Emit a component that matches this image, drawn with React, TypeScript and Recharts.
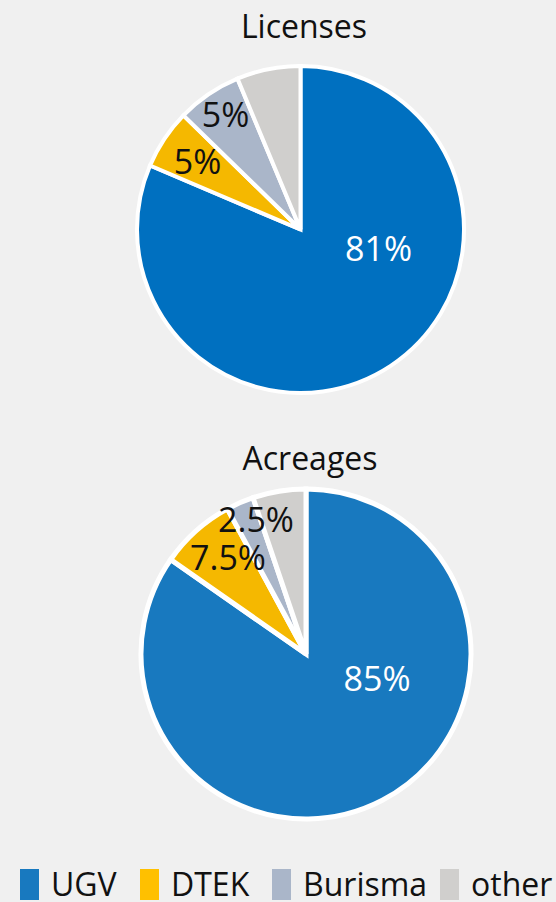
import { PieChart, Pie, Cell, Legend } from 'recharts';

const companies = ['UGV', 'DTEK', 'Burisma', 'other'];
const licenseShares = [81.4, 5.9, 6.4, 6.3];
const acreageShares = [84.7, 7.4, 2.7, 5.2];
const licenseLabels = ['81%', '5%', '5%', ''];
const acreageLabels = ['85%', '7.5%', '2.5%', ''];

const topColors = ['#0070c0', '#f5b800', '#aab6c9', '#d0cfcd'];
const bottomColors = ['#1879bf', '#f5b800', '#aab6c9', '#d0cfcd'];
const legendColors = ['#1879bf', '#ffc000', '#aab6c9', '#d0cfcd'];
const labelInk = ['#ffffff', '#111111', '#111111', '#111111'];

// label offsets from pie centre, per slice
const topOffsets = [[78, 18], [-103, -69], [-75, -116], [0, 0]];
const bottomOffsets = [[71, 24], [-78, -97], [-50, -135], [0, 0]];
// legend swatch x positions
const legendX = [20, 140, 272, 440];

const FONT = '"Open Sans", Roboto, sans-serif';

const licenseData = companies.map((name, i) => ({ name, value: licenseShares[i], label: licenseLabels[i] }));
const acreageData = companies.map((name, i) => ({ name, value: acreageShares[i], label: acreageLabels[i] }));

const makeLabel = (offsets: number[][]) => (props: any) => {
  const { cx, cy, index, payload } = props;
  const text = payload?.label ?? '';
  if (!text) return null;
  const [dx, dy] = offsets[index];
  return (
    <text
      x={cx + dx}
      y={cy + dy}
      fill={labelInk[index]}
      fontSize={34}
      fontFamily={FONT}
      textAnchor='middle'
      dominantBaseline='central'
    >
      {text}
    </text>
  );
};

const LegendBox = () => (
  <div style={{ position: 'relative', width: 556, height: 34, fontFamily: FONT, fontSize: 32, color: '#111' }}>
    {companies.map((c, i) => (
      <div key={c} style={{ position: 'absolute', left: legendX[i], top: 0, display: 'flex', alignItems: 'center', height: 32 }}>
        <span style={{ display: 'inline-block', width: 19, height: 31, background: legendColors[i], marginRight: 12 }} />
        <span style={{ lineHeight: '32px' }}>{c}</span>
      </div>
    ))}
  </div>
);

export default function App() {
  return (
    <div style={{ position: 'absolute', left: 0, top: 0, width: 556, height: 902, background: '#f0f0f0', overflow: 'hidden' }}>
      <PieChart width={556} height={902} margin={{ top: 0, right: 0, bottom: 0, left: 0 }}>
        <text x={304} y={38} textAnchor='middle' fontSize={32} fontFamily={FONT} fill='#111'>
          Licenses
        </text>
        <text x={310} y={470} textAnchor='middle' fontSize={32} fontFamily={FONT} fill='#111'>
          Acreages
        </text>
        <Pie
          data={licenseData}
          dataKey='value'
          cx={300.5}
          cy={229.5}
          outerRadius={163.5}
          startAngle={90}
          endAngle={-270}
          stroke='#ffffff'
          strokeWidth={4}
          label={makeLabel(topOffsets)}
          labelLine={false}
          isAnimationActive={false}
        >
          {licenseData.map((d, i) => (
            <Cell key={d.name} fill={topColors[i]} />
          ))}
        </Pie>
        <Pie
          data={acreageData}
          dataKey='value'
          cx={306}
          cy={654}
          outerRadius={165}
          startAngle={90}
          endAngle={-270}
          stroke='#ffffff'
          strokeWidth={5}
          label={makeLabel(bottomOffsets)}
          labelLine={false}
          isAnimationActive={false}
        >
          {acreageData.map((d, i) => (
            <Cell key={d.name} fill={bottomColors[i]} />
          ))}
        </Pie>
        <Legend
          content={<LegendBox />}
          wrapperStyle={{ position: 'absolute', left: 0, top: 868, width: 556 }}
        />
      </PieChart>
    </div>
  );
}
